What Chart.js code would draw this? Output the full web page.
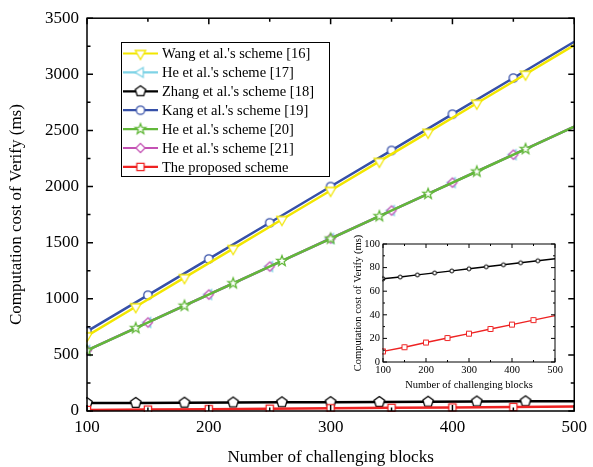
<!DOCTYPE html>
<html>
<head>
<meta charset="utf-8">
<script src="https://cdn.jsdelivr.net/npm/chart.js@4.4.0/dist/chart.umd.min.js"></script>
<style>
  html, body { margin: 0; padding: 0; background: #fff; }
  #wrap { position: relative; width: 593px; height: 467px; }
  #wrap canvas { position: absolute; left: 0; top: 0; }
</style>
</head>
<body>
<div id="wrap">
  <canvas id="main" width="593" height="467"></canvas>
  <canvas id="inset" width="593" height="467"></canvas>
</div>
<script>
// x positions where markers sit
const blocksA = [100, 140, 180, 220, 260, 300, 340, 380, 420, 460, 500];
const blocksB = [100, 150, 200, 250, 300, 350, 400, 450, 500];

// values (ms)
const wang16   = [670, 929, 1188, 1447, 1706, 1965, 2224, 2483, 2742, 3001, 3260];   // blocksA
const he17     = [540, 789, 1038, 1287, 1537, 1786, 2035, 2284, 2533];               // blocksB
const zhang18  = [70.5, 72, 73.8, 75.5, 77.2, 79, 80.7, 82.4, 84.1, 85.8, 87.5];     // blocksA
const kang19   = [710, 1032, 1355, 1677, 2000, 2322, 2645, 2967, 3290];              // blocksB
const he20     = [540, 739, 938, 1138, 1337, 1536, 1736, 1935, 2134, 2334, 2533];    // blocksA
const he21     = [540, 789, 1038, 1287, 1537, 1786, 2035, 2284, 2533];               // blocksB
const proposed = [9, 12.5, 16.5, 20.3, 24, 28, 31.7, 35.5, 39.3];                   // blocksB

const names = ["Wang et al.'s scheme [16]", "He et al.'s scheme [17]", "Zhang et al.'s scheme [18]",
  "Kang et al.'s scheme [19]", "He et al.'s scheme [20]", "He et al.'s scheme [21]", "The proposed scheme"];
const colors = ['#f2e600', '#7fd3e6', '#000000', '#3650a8', '#62b83a', '#c452b4', '#ee2222'];
const shapes = ['triDown', 'triLeft', 'pentagon', 'circle', 'star', 'diamond', 'square'];
const sizes  = [6, 5.5, 5.5, 4.2, 5.5, 4.6, 3.6];

const FONT = "'Liberation Serif', 'Times New Roman', serif";

function makeMarker(shape, r, color, lw) {
  const pad = Math.ceil(r + lw + 1);
  const c = document.createElement('canvas');
  c.width = c.height = pad * 2;
  const g = c.getContext('2d');
  g.translate(pad, pad);
  g.beginPath();
  let pts = [];
  if (shape === 'circle') {
    g.arc(0, 0, r, 0, Math.PI * 2);
  } else if (shape === 'square') {
    g.rect(-r, -r, 2 * r, 2 * r);
  } else {
    if (shape === 'triDown') pts = [[0, r], [-r * 0.87, -r * 0.5], [r * 0.87, -r * 0.5]];
    if (shape === 'triLeft') pts = [[-r, 0], [r * 0.5, -r * 0.87], [r * 0.5, r * 0.87]];
    if (shape === 'diamond') pts = [[0, -r], [r, 0], [0, r], [-r, 0]];
    if (shape === 'pentagon') {
      for (let k = 0; k < 5; k++) {
        const a = -Math.PI / 2 + k * 2 * Math.PI / 5;
        pts.push([r * Math.cos(a), r * Math.sin(a)]);
      }
    }
    if (shape === 'star') {
      for (let k = 0; k < 10; k++) {
        const a = -Math.PI / 2 + k * Math.PI / 5;
        const rr = k % 2 ? r * 0.42 : r;
        pts.push([rr * Math.cos(a), rr * Math.sin(a)]);
      }
    }
    g.moveTo(pts[0][0], pts[0][1]);
    for (let k = 1; k < pts.length; k++) g.lineTo(pts[k][0], pts[k][1]);
    g.closePath();
  }
  g.fillStyle = '#fff';
  g.fill();
  g.lineWidth = lw;
  g.strokeStyle = color;
  g.stroke();
  return c;
}

const markers = shapes.map((s, i) => makeMarker(s, sizes[i], colors[i], 1.3));

function pts(xs, ys) {
  return xs.map((x, i) => ({ x: x, y: ys[i] }));
}

// no marker on the last point
const radiusFn = ctx => ctx.dataIndex === ctx.dataset.data.length - 1 ? 0 : 5;

function series(i, xs, ys, order) {
  return {
    label: names[i],
    data: pts(xs, ys),
    borderColor: colors[i],
    borderWidth: 2.5,
    pointStyle: markers[i],
    pointRadius: radiusFn,
    tension: 0,
    fill: false,
    clip: 1,
    order: order
  };
}

function frameTicks(opts) {
  return {
    id: 'frameTicks' + opts.id,
    afterDatasetsDraw(chart) {
      const ctx = chart.ctx;
      const a = chart.chartArea;
      const xs = chart.scales.x, ys = chart.scales.y;
      ctx.save();
      ctx.strokeStyle = '#000';
      ctx.lineWidth = opts.lw;
      for (let v = xs.min; v <= xs.max + 1e-9; v += opts.xMinor) {
        const len = Math.abs(v % opts.xMajor) < 1e-6 ? opts.maj : opts.min;
        const px = xs.getPixelForValue(v);
        ctx.beginPath();
        ctx.moveTo(px, a.bottom); ctx.lineTo(px, a.bottom - len);
        ctx.moveTo(px, a.top); ctx.lineTo(px, a.top + len);
        ctx.stroke();
      }
      for (let v = ys.min; v <= ys.max + 1e-9; v += opts.yMinor) {
        const len = Math.abs(v % opts.yMajor) < 1e-6 ? opts.maj : opts.min;
        const py = ys.getPixelForValue(v);
        ctx.beginPath();
        ctx.moveTo(a.left, py); ctx.lineTo(a.left + len, py);
        ctx.moveTo(a.right, py); ctx.lineTo(a.right - len, py);
        ctx.stroke();
      }
      ctx.strokeRect(a.left, a.top, a.right - a.left, a.bottom - a.top);

      // axis titles
      ctx.fillStyle = '#000';
      ctx.font = opts.titleSize + 'px ' + FONT;
      ctx.textAlign = 'center';
      ctx.textBaseline = 'middle';
      ctx.fillText('Number of challenging blocks', (a.left + a.right) / 2, opts.xTitleY);
      ctx.translate(opts.yTitleX, (a.top + a.bottom) / 2);
      ctx.rotate(-Math.PI / 2);
      ctx.fillText('Computation cost of Verify (ms)', 0, 0);
      ctx.restore();
    }
  };
}

const legendBox = {
  id: 'legendBox',
  afterDraw(chart) {
    const ctx = chart.ctx;
    ctx.save();
    ctx.fillStyle = '#fff';
    ctx.fillRect(121, 42, 209, 135);
    ctx.strokeStyle = '#000';
    ctx.lineWidth = 1;
    ctx.strokeRect(121.5, 42.5, 208, 134);
    ctx.font = '14.5px ' + FONT;
    ctx.textAlign = 'left';
    ctx.textBaseline = 'middle';
    for (let i = 0; i < names.length; i++) {
      const y = 53.5 + i * 18.9;
      ctx.strokeStyle = colors[i];
      ctx.lineWidth = 2.2;
      ctx.beginPath();
      ctx.moveTo(123, y); ctx.lineTo(158, y);
      ctx.stroke();
      const m = markers[i];
      ctx.drawImage(m, 140.5 - m.width / 2, y - m.height / 2);
      ctx.fillStyle = '#000';
      ctx.fillText(names[i], 162, y + 1);
    }
    ctx.restore();
  }
};

const plain = v => String(v);

new Chart(document.getElementById('main'), {
  type: 'line',
  data: {
    datasets: [
      series(0, blocksA, wang16, 2),
      series(1, blocksB, he17, 3),
      series(2, blocksA, zhang18, 2),
      series(3, blocksB, kang19, 3),
      series(4, blocksA, he20, 1),
      series(5, blocksB, he21, 2),
      series(6, blocksB, proposed, 1)
    ]
  },
  options: {
    responsive: false,
    animation: false,
    events: [],
    layout: { padding: { left: 0, top: 16, right: 14, bottom: 0 } },
    plugins: { legend: { display: false }, tooltip: { enabled: false } },
    scales: {
      x: {
        type: 'linear', min: 100, max: 500,
        grid: { display: false, drawTicks: false }, border: { display: false },
        ticks: { stepSize: 100, padding: 6, maxRotation: 0, color: '#000', callback: plain, font: { family: FONT, size: 17 } },
        afterFit: s => { s.height = 56; }
      },
      y: {
        min: 0, max: 3500,
        grid: { display: false, drawTicks: false }, border: { display: false },
        ticks: { stepSize: 500, padding: 8, color: '#000', callback: plain, font: { family: FONT, size: 17 } },
        afterFit: s => { s.width = 87; }
      }
    }
  },
  plugins: [frameTicks({ id: 'main', lw: 1.5, maj: 6, min: 3.5, xMajor: 100, xMinor: 50, yMajor: 500, yMinor: 250,
    titleSize: 17, xTitleY: 458, yTitleX: 17 }), legendBox]
});

// inset: zoom on the two lowest series
const insetSeries = (i, xs, ys) => ({
  label: names[i],
  data: pts(xs, ys),
  borderColor: colors[i],
  borderWidth: 1.4,
  pointStyle: makeMarker(i === 2 ? 'circle' : 'square', i === 2 ? 2 : 2.5, colors[i], 1),
  pointRadius: radiusFn,
  tension: 0,
  fill: false,
  clip: 1
});

new Chart(document.getElementById('inset'), {
  type: 'line',
  data: {
    datasets: [
      insetSeries(2, blocksA, zhang18),
      insetSeries(6, blocksB, proposed)
    ]
  },
  options: {
    responsive: false,
    animation: false,
    events: [],
    layout: { padding: { left: 0, top: 244, right: 38, bottom: 0 } },
    plugins: { legend: { display: false }, tooltip: { enabled: false } },
    scales: {
      x: {
        type: 'linear', min: 100, max: 500,
        grid: { display: false, drawTicks: false }, border: { display: false },
        ticks: { stepSize: 100, padding: 2, maxRotation: 0, color: '#000', callback: plain, font: { family: FONT, size: 10.5 } },
        afterFit: s => { s.height = 105; }
      },
      y: {
        min: 0, max: 100,
        grid: { display: false, drawTicks: false }, border: { display: false },
        ticks: { stepSize: 20, padding: 3, color: '#000', callback: plain, font: { family: FONT, size: 10.5 } },
        afterFit: s => { s.width = 383; }
      }
    }
  },
  plugins: [frameTicks({ id: 'inset', lw: 1, maj: 4, min: 2, xMajor: 100, xMinor: 50, yMajor: 20, yMinor: 10,
    titleSize: 10.5, xTitleY: 385, yTitleX: 358 })]
});
</script>
</body>
</html>
